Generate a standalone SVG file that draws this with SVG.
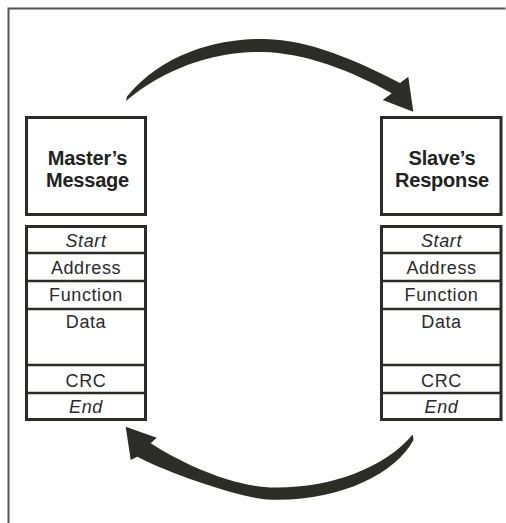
<svg xmlns="http://www.w3.org/2000/svg" width="506" height="523" viewBox="0 0 506 523">
<style>
.box{fill:#fff;stroke:#2b2b27;stroke-width:3}
.div{stroke:#2b2b27;stroke-width:2.5;fill:none}
.hd{font-family:"Liberation Sans",Arial,sans-serif;font-weight:bold;font-size:20px;letter-spacing:-0.2px;fill:#222;text-anchor:middle}
.fl{font-family:"Liberation Sans",Arial,sans-serif;font-size:18px;letter-spacing:0.6px;fill:#2a2a2a;text-anchor:middle}
.it{font-style:italic}
.arrow{fill:#2d2d28;stroke:none}
</style>
<rect x="0" y="0" width="506" height="523" fill="#fff"/>
<path d="M8.5,523 V8.5 H505.5" fill="none" stroke="#555" stroke-width="2"/>

<g id="master-header">
<rect class="box" x="26.5" y="117.5" width="119" height="97"/>
<text class="hd" x="87.5" y="164.5">Master’s</text>
<text class="hd" x="87.5" y="186.9">Message</text>
</g>

<g id="master-frame">
<rect class="box" x="26.5" y="226.5" width="119" height="193"/>
<path class="div" d="M26.5,253 H145.5 M26.5,281 H145.5 M26.5,309 H145.5 M26.5,365 H145.5 M26.5,393 H145.5"/>
<text class="fl it" x="86" y="246.5">Start</text>
<text class="fl" x="86" y="273.7">Address</text>
<text class="fl" x="86" y="301">Function</text>
<text class="fl" x="86" y="328">Data</text>
<text class="fl" x="86" y="386.7">CRC</text>
<text class="fl it" x="86" y="413">End</text>
</g>

<g id="slave-header">
<rect class="box" x="381.5" y="117.5" width="119.5" height="97"/>
<text class="hd" x="442" y="164.5">Slave’s</text>
<text class="hd" x="442" y="186.9">Response</text>
</g>

<g id="slave-frame">
<rect class="box" x="381.5" y="226.5" width="119.5" height="193"/>
<path class="div" d="M381.5,253 H501 M381.5,281 H501 M381.5,309 H501 M381.5,365 H501 M381.5,393 H501"/>
<text class="fl it" x="441.5" y="246.5">Start</text>
<text class="fl" x="441.5" y="273.7">Address</text>
<text class="fl" x="441.5" y="301">Function</text>
<text class="fl" x="441.5" y="328">Data</text>
<text class="fl" x="441.5" y="386.7">CRC</text>
<text class="fl it" x="441.5" y="413">End</text>
</g>

<g id="connectors">
<path id="request-arrow" class="arrow" d="M126,101 L127,96.5 C165,50 225,38 265,39 C310,40 355,60 400,83 L408.3,76.7 L413.3,111.7 L382.7,100 L391.7,93.3 C350,70 305,53 262,52 C215,51 165,68 126,101 Z"/>
<path id="response-arrow" class="arrow" d="M412.7,434.5 L413.5,440 C395,475 335,503 267,499.5 C240,497 175,476 137.3,456.7 L130.7,460 L125.7,426.7 L156.7,437.7 L150.7,443.3 C180,462 230,487 275,487.5 C330,488 385,468 412.7,434.5 Z"/>
</g>
</svg>
